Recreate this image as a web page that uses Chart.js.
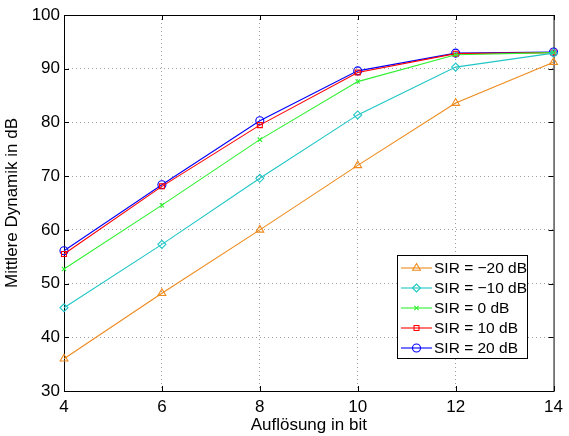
<!DOCTYPE html>
<html>
<head>
<meta charset="utf-8">
<script src="https://cdn.jsdelivr.net/npm/chart.js@4"></script>
<style>
  html, body { margin: 0; padding: 0; background: #fff; }
  #wrap { width: 569px; height: 436px; }
</style>
</head>
<body>
<div id="wrap"><canvas id="chart" width="569" height="436"></canvas></div>
<script>
// resolution in bit (x axis)
const bits = [4, 6, 8, 10, 12, 14];
const yTicks = [30, 40, 50, 60, 70, 80, 90, 100];
const xTicks = [4, 6, 8, 10, 12, 14];

// mean dynamic range in dB for each SIR
const sirM20 = [36.0, 48.2, 60.0, 72.0, 83.6, 91.2];
const sirM10 = [45.5, 57.3, 69.6, 81.4, 90.3, 92.9];
const sir0   = [52.7, 64.6, 76.8, 87.6, 92.6, 93.0];
const sir10  = [55.5, 68.1, 79.5, 89.3, 92.8, 93.0];
const sir20  = [56.1, 68.4, 80.3, 89.6, 92.9, 93.1];

const FONT = 'Helvetica, "Liberation Sans", Arial, sans-serif';

function pts(vals) {
    return bits.map((b, i) => ({ x: b, y: vals[i] }));
}

function series(label, vals, color, style, radius) {
    return {
        label,
        data: pts(vals),
        borderColor: color,
        backgroundColor: 'rgba(0,0,0,0)',
        borderWidth: 1.1,
        pointStyle: style,
        pointRadius: radius,
        pointBorderColor: color,
        pointBackgroundColor: 'rgba(0,0,0,0)',
        pointBorderWidth: 1.1,
        tension: 0,
        clip: false
    };
}

const datasets = [
    series('SIR = \u221220 dB', sirM20, '#ee8a1c', 'triangle', 4.5),
    series('SIR = \u221210 dB', sirM10, '#1fc6c6', 'rectRot', 4),
    series('SIR = 0 dB', sir0, '#2ef02e', 'crossRot', 3),
    series('SIR = 10 dB', sir10, '#ff0000', 'rect', 3.5),
    series('SIR = 20 dB', sir20, '#0000ff', 'circle', 4)
];

// black frame plus inward tick marks, matlab style
const framePlugin = {
    id: 'frame',
    beforeDatasetsDraw(chart) {
        const { ctx, chartArea: a, scales } = chart;
        ctx.save();
        ctx.strokeStyle = '#000';
        ctx.lineWidth = 1;
        ctx.strokeRect(a.left + 0.5, a.top + 0.5, a.right - a.left, a.bottom - a.top);
        ctx.beginPath();
        xTicks.forEach(v => {
            const x = Math.round(scales.x.getPixelForValue(v)) + 0.5;
            ctx.moveTo(x, a.bottom); ctx.lineTo(x, a.bottom - 5);
            ctx.moveTo(x, a.top); ctx.lineTo(x, a.top + 5);
        });
        yTicks.forEach(v => {
            const y = Math.round(scales.y.getPixelForValue(v)) + 0.5;
            ctx.moveTo(a.left, y); ctx.lineTo(a.left + 5, y);
            ctx.moveTo(a.right, y); ctx.lineTo(a.right - 5, y);
        });
        ctx.stroke();
        ctx.restore();
    }
};

// legend box inside the lower right of the plot
const legendPlugin = {
    id: 'boxLegend',
    afterDraw(chart) {
        const { ctx } = chart;
        const left = 397, top = 255, w = 130, h = 103;
        const rowH = 20;
        ctx.save();
        ctx.fillStyle = '#fff';
        ctx.fillRect(left, top, w, h);
        ctx.strokeStyle = '#000';
        ctx.lineWidth = 1;
        ctx.strokeRect(left + 0.5, top + 0.5, w, h);
        ctx.textBaseline = 'middle';
        chart.data.datasets.forEach((ds, i) => {
            const y = top + 13 + i * rowH;
            ctx.strokeStyle = ds.borderColor;
            ctx.lineWidth = 1.1;
            ctx.beginPath();
            ctx.moveTo(left + 4, y);
            ctx.lineTo(left + 35, y);
            ctx.stroke();
            ctx.fillStyle = 'rgba(0,0,0,0)';
            Chart.helpers.drawPoint(ctx, {
                pointStyle: ds.pointStyle,
                radius: ds.pointRadius,
                rotation: 0,
                borderWidth: 1.1
            }, left + 19.5, y);
            ctx.fillStyle = '#000';
            ctx.font = '15.5px ' + FONT;
            ctx.fillText(ds.label, left + 37, y + 1);
        });
        ctx.restore();
    }
};

new Chart(document.getElementById('chart'), {
    type: 'line',
    data: { datasets },
    options: {
        responsive: false,
        animation: false,
        layout: { padding: { left: 2, top: 15, right: 12, bottom: 0 } },
        plugins: { legend: { display: false }, tooltip: { enabled: false } },
        scales: {
            x: {
                type: 'linear',
                min: 4, max: 14,
                afterBuildTicks: s => { s.ticks = xTicks.map(v => ({ value: v })); },
                afterFit: s => { s.height = 45; },
                grid: {
                    color: (c) => (c.tick && (c.tick.value === 4 || c.tick.value === 14)) ? 'rgba(0,0,0,0)' : '#a0a0a0',
                    lineWidth: 1,
                    tickLength: 0,
                    drawTicks: false
                },
                border: { display: false, dash: [1, 3] },
                ticks: {
                    color: '#000',
                    font: { family: FONT, size: 17 },
                    padding: 6,
                    maxRotation: 0
                },
                title: {
                    display: true,
                    text: 'Auflösung in bit',
                    color: '#000',
                    font: { family: FONT, size: 17 },
                    padding: { top: -3, bottom: 0 }
                }
            },
            y: {
                min: 30, max: 100,
                afterBuildTicks: s => { s.ticks = yTicks.map(v => ({ value: v })); },
                afterFit: s => { s.width = 62; },
                grid: {
                    color: (c) => (c.tick && (c.tick.value === 30 || c.tick.value === 100)) ? 'rgba(0,0,0,0)' : '#a0a0a0',
                    lineWidth: 1,
                    tickLength: 0,
                    drawTicks: false
                },
                border: { display: false, dash: [1, 3] },
                ticks: {
                    color: '#000',
                    font: { family: FONT, size: 17 },
                    padding: 4
                },
                title: {
                    display: true,
                    text: 'Mittlere Dynamik in dB',
                    color: '#000',
                    font: { family: FONT, size: 17 },
                    padding: { top: 0, bottom: 0 }
                }
            }
        }
    },
    plugins: [framePlugin, legendPlugin]
});
</script>
</body>
</html>
